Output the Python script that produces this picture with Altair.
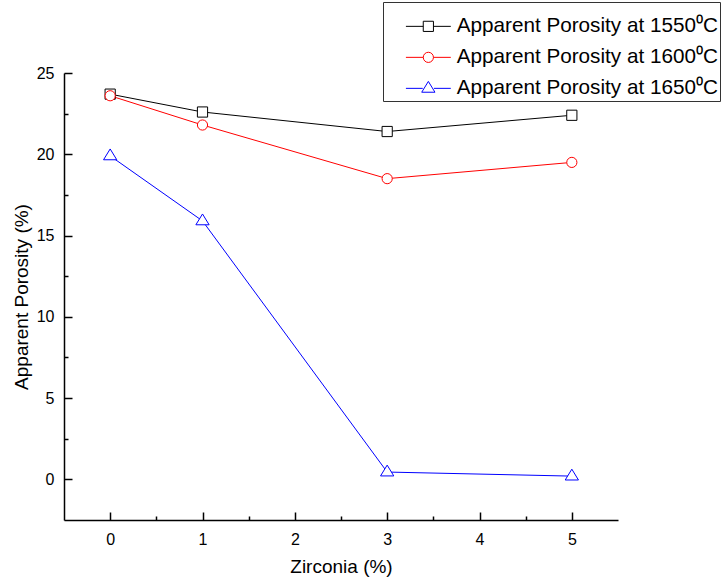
import altair as alt
import pandas as pd

zirconia = [0, 1, 3, 5]
series_names = [
    "Apparent Porosity at 1550\u2070C",
    "Apparent Porosity at 1600\u2070C",
    "Apparent Porosity at 1650\u2070C",
]
porosity_1550 = [23.7, 22.6, 21.4, 22.4]
porosity_1600 = [23.6, 21.8, 18.5, 19.5]
porosity_1650 = [19.9, 15.9, 0.45, 0.2]
colors = ["#000000", "#ff0000", "#0000ff"]

x_ticks = [0, 0.5, 1, 1.5, 2, 2.5, 3, 3.5, 4, 4.5, 5]
y_ticks = [0, 2.5, 5, 7.5, 10, 12.5, 15, 17.5, 20, 22.5, 25]

rows = []
for name, vals in zip(series_names, [porosity_1550, porosity_1600, porosity_1650]):
    for xv, yv in zip(zirconia, vals):
        rows.append({"series": name, "zr": xv, "ap": yv})
df = pd.DataFrame(rows)

FONT = "Liberation Sans"

marker_paths = [
    "M-1,-1H1V1H-1Z",
    "M1,0A1,1 0 1,1 -1,0A1,1 0 1,1 1,0Z",
    "M0,-1.36L1.3,0.76L-1.3,0.76Z",
]
legend_paths = [
    "M-4.4,0H-1M1,0H4.4M-1,-1H1V1H-1Z",
    "M-4.4,0H-1M1,0H4.4M1,0A1,1 0 1,1 -1,0A1,1 0 1,1 1,0Z",
    "M-4.4,0H-1.1M1.1,0H4.4M0,-1.36L1.3,0.76L-1.3,0.76Z",
]

x_enc = alt.X(
    "zr:Q",
    scale=alt.Scale(domain=[-0.5, 5.5], nice=False, zero=False),
    axis=alt.Axis(
        title="Zirconia (%)",
        values=x_ticks,
        labelExpr="datum.value % 1 === 0 ? format(datum.value, 'd') : ''",
        tickSize=alt.ExprRef(expr="datum.value % 1 === 0 ? -8 : -4"),
        labelPadding=19,
        titlePadding=10,
        grid=False,
    ),
)
y_enc = alt.Y(
    "ap:Q",
    scale=alt.Scale(domain=[-2.5, 25], nice=False, zero=False),
    axis=alt.Axis(
        title="Apparent Porosity (%)",
        values=y_ticks,
        labelExpr="datum.value % 5 === 0 ? format(datum.value, 'd') : ''",
        tickSize=alt.ExprRef(expr="datum.value % 5 === 0 ? -8 : -4"),
        labelPadding=18,
        titlePadding=5,
        grid=False,
    ),
)
color_enc = alt.Color(
    "series:N",
    scale=alt.Scale(domain=series_names, range=colors),
    legend=None,
)

lines = alt.Chart(df).mark_line(strokeWidth=1).encode(
    x=x_enc, y=y_enc, color=color_enc, detail="series:N"
)
points = alt.Chart(df).mark_point(
    filled=False, fill="white", opacity=1, size=104, strokeWidth=1
).encode(
    x=x_enc,
    y=y_enc,
    color=color_enc,
    shape=alt.Shape(
        "series:N",
        scale=alt.Scale(domain=series_names, range=marker_paths),
        legend=None,
    ),
)
plot = alt.layer(lines, points)

legend_layer = alt.Chart(df).transform_filter("false").mark_point(
    filled=False, fill="white", opacity=1, size=104, strokeWidth=1
).encode(
    x=alt.X("zr:Q", scale=alt.Scale(domain=[-0.5, 5.5], nice=False, zero=False)),
    y=alt.Y("ap:Q", scale=alt.Scale(domain=[-2.5, 25], nice=False, zero=False)),
    color=alt.Color(
        "series:N",
        scale=alt.Scale(domain=series_names, range=colors),
        legend=alt.Legend(
            title=" ",
            titleFontSize=8,
            titlePadding=4,
            orient="none",
            legendX=319,
            legendY=-71,
            symbolType="circle",
            symbolSize=104,
            symbolStrokeWidth=1,
            symbolOffset=33,
            labelOffset=18,
            labelFont=FONT,
            labelFontSize=20.7,
            labelColor="#000000",
            labelLimit=0,
            padding=2,
            rowPadding=9,
            strokeColor="#333333",
            fillColor="white",
        ),
    ),
    shape=alt.Shape(
        "series:N",
        scale=alt.Scale(domain=series_names, range=legend_paths),
        legend=alt.Legend(title=" ", orient="none", legendX=319, legendY=-71),
    ),
)

chart = (
    alt.layer(plot, legend_layer)
    .resolve_scale(shape="independent", color="independent")
    .properties(
        width=554,
        height=447,
        autosize=alt.AutoSizeParams(type="none"),
        padding={"left": 64, "top": 73, "right": 104, "bottom": 62},
        background="white",
    )
    .configure_view(stroke=None)
    .configure_axis(
        domainColor="#000000",
        domainWidth=1.5,
        tickColor="#000000",
        tickWidth=1.5,
        labelFont=FONT,
        labelFontSize=16,
        labelColor="#000000",
        titleFont=FONT,
        titleFontSize=19,
        titleFontWeight="normal",
        titleColor="#000000",
    )
)

chart.save("out.html", embed_options={"renderer": "svg", "actions": False})
